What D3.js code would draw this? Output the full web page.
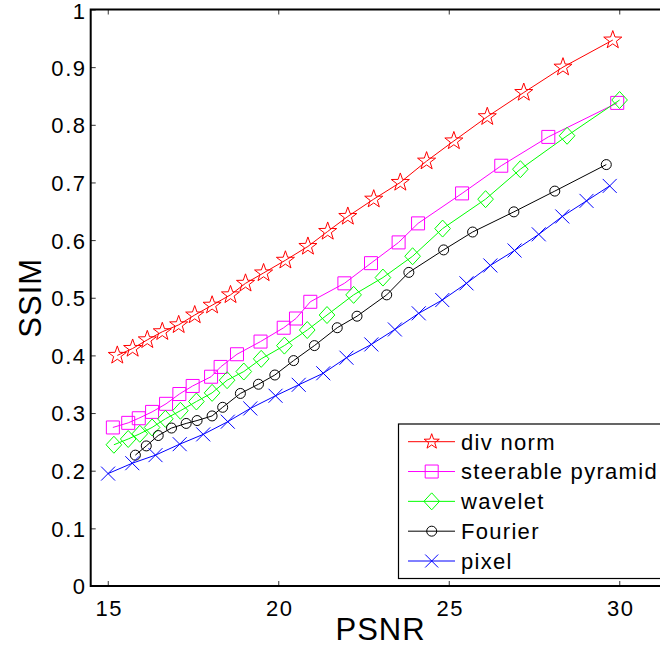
<!DOCTYPE html>
<html><head><meta charset="utf-8">
<script src="https://cdn.jsdelivr.net/npm/d3@7/dist/d3.min.js"></script>
<style>body{margin:0;background:#fff}svg{display:block}text{font-family:"Liberation Sans",Arial,Helvetica,sans-serif;fill:#000}</style>
</head><body>
<svg id="chart" width="660" height="647"></svg>
<script>
// ---- data ----
const xTicks = [15, 20, 25, 30];
const yTicks = [0, 0.1, 0.2, 0.3, 0.4, 0.5, 0.6, 0.7, 0.8, 0.9, 1];
const yTickLabels = ["0", "0.1", "0.2", "0.3", "0.4", "0.5", "0.6", "0.7", "0.8", "0.9", "1"];
const seriesNames = ["div norm", "steerable pyramid", "wavelet", "Fourier", "pixel"];

const divNormX = [15.28,15.73,16.16,16.60,17.08,17.55,18.06,18.60,19.04,19.57,20.21,20.87,21.45,22.04,22.80,23.58,24.35,25.15,26.13,27.20,28.35,29.81];
const divNormY = [0.400,0.412,0.427,0.441,0.453,0.470,0.487,0.505,0.525,0.543,0.565,0.589,0.615,0.641,0.671,0.700,0.737,0.772,0.814,0.856,0.900,0.947];

const pyramidX = [15.15,15.60,15.91,16.30,16.71,17.10,17.49,18.03,18.31,18.79,19.48,20.16,20.52,20.94,21.94,22.72,23.53,24.10,25.39,26.54,27.92,29.94];
const pyramidY = [0.275,0.283,0.291,0.302,0.316,0.333,0.347,0.363,0.380,0.402,0.424,0.448,0.464,0.493,0.525,0.560,0.596,0.629,0.681,0.729,0.779,0.838];

const waveletX = [15.18,15.60,15.94,16.30,16.69,17.13,17.60,18.06,18.50,18.99,19.50,20.18,20.85,21.43,22.21,23.07,23.94,24.82,26.08,27.10,28.47,30.01];
const waveletY = [0.245,0.255,0.264,0.275,0.290,0.304,0.320,0.335,0.357,0.372,0.394,0.417,0.444,0.470,0.505,0.535,0.572,0.620,0.671,0.723,0.781,0.843];

const fourierX = [15.81,16.13,16.48,16.87,17.30,17.62,18.06,18.37,18.89,19.42,19.90,20.45,21.06,21.73,22.31,23.18,23.83,24.85,25.70,26.91,28.11,29.62];
const fourierY = [0.227,0.243,0.261,0.274,0.282,0.287,0.295,0.310,0.334,0.350,0.366,0.391,0.417,0.448,0.468,0.505,0.544,0.583,0.614,0.649,0.685,0.731];

const pixelX = [15.01,15.72,16.40,17.11,17.80,18.52,19.18,19.92,20.60,21.32,22.00,22.73,23.42,24.12,24.81,25.52,26.22,26.93,27.64,28.33,29.04,29.72];
const pixelY = [0.195,0.213,0.227,0.246,0.263,0.285,0.308,0.330,0.349,0.369,0.396,0.419,0.445,0.473,0.496,0.525,0.556,0.582,0.610,0.641,0.668,0.694];

// ---- styles ----
const colors = ["#ff0000", "#ff00ff", "#00ff00", "#000000", "#0000ff"];
const markerKinds = ["star", "square", "diamond", "circle", "x"];
const markerSizes = [9.5, 6.5, 8.5, 5, 7];
const legendMarkerSizes = [8, 6.5, 8.5, 5, 6.5];

const series = seriesNames.map((name, i) => {
  const xs = [divNormX, pyramidX, waveletX, fourierX, pixelX][i];
  const ys = [divNormY, pyramidY, waveletY, fourierY, pixelY][i];
  return { name, color: colors[i], kind: markerKinds[i], size: markerSizes[i], lsize: legendMarkerSizes[i],
           points: xs.map((x, j) => ({ x, y: ys[j] })) };
});

// ---- layout ----
const svg = d3.select("#chart");
const x = d3.scaleLinear().domain([14.5, 31.5]).range([90.7, 670.4]);
const y = d3.scaleLinear().domain([0, 1]).range([586, 9.5]);

function markerPath(kind, cx, cy, s) {
  const p = d3.path();
  if (kind === "star") {
    const r = s * 0.4;
    for (let i = 0; i < 10; i++) {
      const a = -Math.PI / 2 + i * Math.PI / 5;
      const rad = i % 2 ? r : s;
      const px = cx + rad * Math.cos(a), py = cy + rad * Math.sin(a);
      if (i === 0) p.moveTo(px, py); else p.lineTo(px, py);
    }
    p.closePath();
  } else if (kind === "square") {
    p.rect(cx - s, cy - s, 2 * s, 2 * s);
  } else if (kind === "diamond") {
    p.moveTo(cx, cy - s); p.lineTo(cx + s * 0.92, cy); p.lineTo(cx, cy + s); p.lineTo(cx - s * 0.92, cy); p.closePath();
  } else if (kind === "circle") {
    p.moveTo(cx + s, cy); p.arc(cx, cy, s, 0, 2 * Math.PI);
  } else if (kind === "x") {
    p.moveTo(cx - s, cy - s); p.lineTo(cx + s, cy + s);
    p.moveTo(cx - s, cy + s); p.lineTo(cx + s, cy - s);
  }
  return p.toString();
}

// ---- axes ----
const x0 = x.range()[0], x1 = x.range()[1], yb = y(0), yt = y(1);

const gx = svg.append("g").attr("transform", `translate(0,${yb})`)
  .call(d3.axisBottom(x).tickValues(xTicks).tickSizeInner(-5).tickSizeOuter(0).tickPadding(14).tickFormat(d3.format("d")));
const gxTop = svg.append("g").attr("transform", `translate(0,${yt})`)
  .call(d3.axisTop(x).tickValues(xTicks).tickSizeInner(-5).tickSizeOuter(0).tickFormat(""));
const gy = svg.append("g").attr("transform", `translate(${x0},0)`)
  .call(d3.axisLeft(y).tickValues(yTicks).tickSizeInner(-5).tickSizeOuter(0).tickPadding(4).tickFormat((d, i) => yTickLabels[i]));

[gx, gxTop, gy].forEach(g => {
  g.select(".domain").remove();
  g.selectAll(".tick line").attr("stroke", "#333").attr("stroke-width", 1);
  g.selectAll(".tick text").attr("font-family", '"Liberation Sans",Arial,sans-serif')
    .attr("font-size", 22).attr("letter-spacing", "1.6px").attr("fill", "#000");
});
gx.selectAll(".tick text").attr("dy", "0.71em").attr("x", 1);
gy.selectAll(".tick text").attr("dy", "0.36em");
gy.selectAll(".tick").filter(d => d === 1).select("text").attr("dy", "0.42em");

// frame
svg.append("path")
  .attr("d", `M${x1},${yt}H${x0}V${yb}H${x1}`)
  .attr("fill", "none").attr("stroke", "#000").attr("stroke-width", 2);

// axis titles
svg.append("text").attr("x", (x0 + x1) / 2).attr("y", 640).attr("text-anchor", "middle")
  .attr("font-size", 31).attr("letter-spacing", "1px").text("PSNR");
svg.append("text").attr("transform", `translate(41,${(yb + yt) / 2}) rotate(-90)`).attr("text-anchor", "middle")
  .attr("font-size", 31).attr("letter-spacing", "1px").text("SSIM");

// ---- series ----
const line = d3.line().x(d => x(d.x)).y(d => y(d.y));
series.forEach(s => {
  const g = svg.append("g");
  g.append("path").attr("d", line(s.points)).attr("fill", "none").attr("stroke", s.color).attr("stroke-width", 1);
  g.selectAll("path.m").data(s.points).join("path").attr("class", "m")
    .attr("d", d => markerPath(s.kind, x(d.x), y(d.y), s.size))
    .attr("fill", "none").attr("stroke", s.color).attr("stroke-width", 1);
});

// ---- legend ----
const lg = svg.append("g");
lg.append("rect").attr("x", 398.5).attr("y", 424).attr("width", 290).attr("height", 154.5)
  .attr("fill", "#fff").attr("stroke", "#000").attr("stroke-width", 1.2);
const rowY = d3.scaleLinear().domain([0, 4]).range([441.7, 561]);
series.forEach((s, i) => {
  const yy = rowY(i);
  lg.append("line").attr("x1", 408).attr("x2", 455).attr("y1", yy).attr("y2", yy).attr("stroke", s.color).attr("stroke-width", 1);
  lg.append("path").attr("d", markerPath(s.kind, 431.7, yy, s.lsize)).attr("fill", "none").attr("stroke", s.color).attr("stroke-width", 1);
  lg.append("text").attr("x", 461).attr("y", yy).attr("dy", "0.36em").attr("font-size", 22)
    .attr("letter-spacing", "1.3px").text(s.name);
});
</script>
</body></html>
